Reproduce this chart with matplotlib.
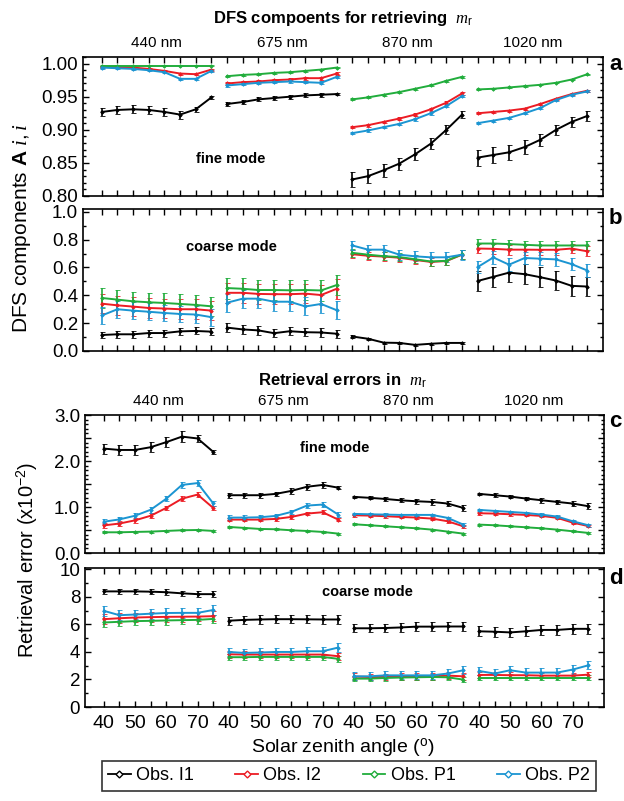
import numpy as np
import matplotlib
matplotlib.use("Agg")
from matplotlib import pyplot as plt
from matplotlib.ticker import MultipleLocator, FixedLocator, FuncFormatter
from matplotlib.transforms import blended_transform_factory
from matplotlib.lines import Line2D

plt.rcParams['font.family'] = ['Liberation Sans', 'DejaVu Sans']
plt.rcParams['mathtext.fontset'] = 'custom'
plt.rcParams['mathtext.rm'] = 'Liberation Sans'
plt.rcParams['mathtext.it'] = 'Liberation Serif:italic'
plt.rcParams['mathtext.bf'] = 'Liberation Sans:bold'

# solar zenith angles, repeated for every wavelength block
sza = [40, 45, 50, 55, 60, 65, 70, 75]
wavelengths = ['440 nm', '675 nm', '870 nm', '1020 nm']
obs_names = ['Obs. I1', 'Obs. I2', 'Obs. P1', 'Obs. P2']
obs_colors = ['black', '#ec1c24', '#21ad3c', '#1b95d2']

# (a) DFS components, fine mode
dfs_fine_I1 = [0.927, 0.930, 0.931, 0.930, 0.927, 0.923, 0.931, 0.949,
               0.939, 0.942, 0.946, 0.948, 0.950, 0.952, 0.953, 0.954,
               0.825, 0.830, 0.839, 0.849, 0.863, 0.879, 0.900, 0.923,
               0.858, 0.862, 0.866, 0.874, 0.885, 0.900, 0.912, 0.921]
dfs_fine_I2 = [0.995, 0.995, 0.994, 0.992, 0.989, 0.985, 0.984, 0.991,
               0.970, 0.972, 0.973, 0.975, 0.976, 0.978, 0.978, 0.985,
               0.904, 0.907, 0.912, 0.917, 0.923, 0.931, 0.941, 0.955,
               0.925, 0.927, 0.929, 0.932, 0.939, 0.947, 0.954, 0.959]
dfs_fine_P1 = [0.997, 0.997, 0.997, 0.997, 0.997, 0.997, 0.997, 0.997,
               0.981, 0.983, 0.984, 0.986, 0.987, 0.989, 0.991, 0.994,
               0.946, 0.949, 0.953, 0.957, 0.962, 0.967, 0.974, 0.980,
               0.961, 0.962, 0.964, 0.966, 0.968, 0.971, 0.976, 0.984]
dfs_fine_P2 = [0.994, 0.993, 0.992, 0.990, 0.987, 0.977, 0.977, 0.989,
               0.967, 0.969, 0.971, 0.972, 0.973, 0.972, 0.971, 0.980,
               0.895, 0.899, 0.904, 0.909, 0.916, 0.925, 0.936, 0.951,
               0.910, 0.914, 0.918, 0.925, 0.933, 0.945, 0.953, 0.958]
dfs_fine_err_I1 = [0.006, 0.006, 0.006, 0.006, 0.006, 0.006, 0.004, 0.002,
                   0.003, 0.003, 0.003, 0.003, 0.003, 0.003, 0.003, 0.002,
                   0.012, 0.011, 0.010, 0.009, 0.009, 0.008, 0.007, 0.005,
                   0.012, 0.012, 0.011, 0.010, 0.009, 0.008, 0.007, 0.007]
dfs_fine_err_I2 = [0.0015, 0.002, 0.002, 0.0015]
dfs_fine_err_P1 = [0.001, 0.001, 0.0015, 0.001]
dfs_fine_err_P2 = [0.0015, 0.002, 0.002, 0.0015]

# (b) DFS components, coarse mode
dfs_coarse_I1 = [0.115, 0.120, 0.120, 0.129, 0.129, 0.141, 0.144, 0.139,
                 0.168, 0.155, 0.148, 0.128, 0.142, 0.135, 0.133, 0.124,
                 0.104, 0.088, 0.060, 0.058, 0.044, 0.052, 0.058, 0.058,
                 0.503, 0.533, 0.563, 0.552, 0.530, 0.506, 0.468, 0.463]
dfs_coarse_I2 = [0.340, 0.328, 0.319, 0.309, 0.305, 0.300, 0.300, 0.290,
                 0.418, 0.418, 0.410, 0.408, 0.408, 0.412, 0.402, 0.447,
                 0.695, 0.684, 0.678, 0.670, 0.654, 0.640, 0.646, 0.692,
                 0.736, 0.734, 0.728, 0.728, 0.727, 0.727, 0.736, 0.716]
dfs_coarse_P1 = [0.381, 0.369, 0.357, 0.350, 0.345, 0.338, 0.331, 0.321,
                 0.452, 0.447, 0.438, 0.438, 0.436, 0.438, 0.435, 0.474,
                 0.705, 0.692, 0.681, 0.675, 0.659, 0.643, 0.648, 0.694,
                 0.772, 0.772, 0.768, 0.763, 0.758, 0.758, 0.758, 0.758]
dfs_coarse_P2 = [0.255, 0.300, 0.290, 0.282, 0.273, 0.266, 0.262, 0.243,
                 0.347, 0.376, 0.376, 0.354, 0.354, 0.320, 0.338, 0.293,
                 0.758, 0.728, 0.728, 0.692, 0.680, 0.673, 0.673, 0.692,
                 0.603, 0.672, 0.620, 0.668, 0.663, 0.658, 0.624, 0.578]
dfs_coarse_err_I1 = [0.025, 0.03, 0.008, 0.07]
dfs_coarse_err_I2 = [0.07, 0.07, 0.03, 0.035]
dfs_coarse_err_P1 = [0.07, 0.075, 0.03, 0.03]
dfs_coarse_err_P2 = [0.06, 0.065, 0.035, 0.045]

# (c) retrieval errors (x1e-2), fine mode
err_fine_I1 = [2.27, 2.24, 2.24, 2.30, 2.41, 2.53, 2.49, 2.20,
               1.256, 1.256, 1.256, 1.285, 1.35, 1.44, 1.48, 1.42,
               1.22, 1.20, 1.175, 1.145, 1.125, 1.11, 1.075, 0.98,
               1.285, 1.256, 1.227, 1.184, 1.147, 1.111, 1.075, 1.017]
err_fine_I2 = [0.60, 0.64, 0.71, 0.81, 0.98, 1.18, 1.27, 0.98,
               0.726, 0.726, 0.726, 0.741, 0.784, 0.857, 0.886, 0.726,
               0.82, 0.813, 0.80, 0.784, 0.77, 0.748, 0.69, 0.58,
               0.864, 0.857, 0.842, 0.828, 0.806, 0.765, 0.66, 0.585]
err_fine_P1 = [0.45, 0.45, 0.458, 0.465, 0.48, 0.494, 0.50, 0.48,
               0.566, 0.545, 0.523, 0.516, 0.494, 0.479, 0.458, 0.421,
               0.625, 0.603, 0.581, 0.559, 0.537, 0.508, 0.465, 0.421,
               0.617, 0.603, 0.581, 0.559, 0.537, 0.508, 0.472, 0.436]
err_fine_P2 = [0.68, 0.73, 0.81, 0.94, 1.18, 1.48, 1.52, 1.08,
               0.77, 0.77, 0.777, 0.806, 0.893, 1.031, 1.053, 0.835,
               0.85, 0.842, 0.835, 0.828, 0.828, 0.828, 0.763, 0.617,
               0.937, 0.915, 0.893, 0.871, 0.835, 0.792, 0.69, 0.603]
err_fine_err_I1 = [0.11, 0.11, 0.11, 0.11, 0.11, 0.12, 0.08, 0.04,
                   0.05, 0.05, 0.05, 0.05, 0.06, 0.07, 0.06, 0.03,
                   0.03, 0.03, 0.04, 0.04, 0.05, 0.06, 0.06, 0.06,
                   0.03, 0.04, 0.04, 0.04, 0.05, 0.05, 0.06, 0.06]
err_fine_err_I2 = [0.05, 0.04, 0.03, 0.03]
err_fine_err_P1 = [0.02, 0.02, 0.02, 0.02]
err_fine_err_P2 = [0.06, 0.05, 0.03, 0.03]

# (d) retrieval errors (x1e-2), coarse mode
err_coarse_I1 = [8.40, 8.40, 8.40, 8.38, 8.34, 8.26, 8.20, 8.20,
                 6.27, 6.33, 6.36, 6.38, 6.38, 6.37, 6.36, 6.36,
                 5.72, 5.72, 5.74, 5.78, 5.84, 5.84, 5.85, 5.85,
                 5.50, 5.47, 5.42, 5.50, 5.60, 5.60, 5.68, 5.68]
err_coarse_I2 = [6.38, 6.45, 6.50, 6.53, 6.55, 6.56, 6.57, 6.60,
                 3.83, 3.81, 3.81, 3.81, 3.81, 3.81, 3.81, 3.69,
                 2.21, 2.18, 2.18, 2.21, 2.21, 2.23, 2.28, 2.23,
                 2.33, 2.33, 2.31, 2.31, 2.28, 2.28, 2.28, 2.35]
err_coarse_P1 = [6.14, 6.19, 6.24, 6.26, 6.29, 6.31, 6.33, 6.40,
                 3.62, 3.62, 3.64, 3.64, 3.64, 3.64, 3.64, 3.50,
                 2.06, 2.06, 2.11, 2.14, 2.16, 2.18, 2.16, 1.99,
                 2.14, 2.14, 2.14, 2.14, 2.14, 2.14, 2.14, 2.14]
err_coarse_P2 = [6.99, 6.67, 6.72, 6.78, 6.83, 6.84, 6.84, 7.05,
                 4.00, 3.93, 3.96, 4.00, 4.00, 4.05, 4.05, 4.32,
                 2.23, 2.23, 2.30, 2.30, 2.30, 2.30, 2.43, 2.67,
                 2.62, 2.43, 2.67, 2.50, 2.50, 2.50, 2.72, 3.03]
err_coarse_err_I1 = [0.2, 0.3, 0.3, 0.35]
err_coarse_err_I2 = [0.35, 0.25, 0.25, 0.2]
err_coarse_err_P1 = [0.3, 0.2, 0.2, 0.2]
err_coarse_err_P2 = [0.35, 0.3, 0.3, 0.3]


def expand(err):
    """Per-wavelength error values -> one value per point"""
    err = list(err)
    if len(err) == len(wavelengths):
        return np.repeat(err, len(sza))
    return np.array(err)


def xpos(block):
    # each wavelength block is shifted by 40 degrees along the axis
    return np.array(sza) + 40 * block


def draw_panel(ax, series, errors):
    for vals, errs, color in zip(series, errors, obs_colors):
        vals = np.array(vals)
        errs = expand(errs)
        n = len(sza)
        for b in range(len(wavelengths)):
            sl = slice(b * n, (b + 1) * n)
            ax.errorbar(xpos(b), vals[sl], yerr=errs[sl], color=color,
                        lw=1.4, elinewidth=1.2, capsize=1.8, capthick=1.2,
                        marker='D', ms=1.8, mfc=color, mew=0.6, zorder=3)


def style_axes(ax, ylim, major, minor, fmt, label_every=None):
    ax.set_xlim(34, 200)
    ax.set_ylim(*ylim)
    ticks = np.arange(40, 200, 5)
    ax.xaxis.set_major_locator(FixedLocator(ticks))
    ax.yaxis.set_major_locator(MultipleLocator(major))
    ax.yaxis.set_minor_locator(MultipleLocator(minor))
    if label_every:
        ax.yaxis.set_major_formatter(FuncFormatter(
            lambda v, p: fmt % v if abs(v / label_every - round(v / label_every)) < 1e-6 else ''))
    else:
        ax.yaxis.set_major_formatter(FuncFormatter(lambda v, p: fmt % v))
    ax.tick_params(which='both', direction='in', top=True, right=True,
                   labelsize=13.5, width=1)
    ax.tick_params(which='major', length=4)
    ax.tick_params(which='minor', length=2)
    for s in ax.spines.values():
        s.set_linewidth(1.2)


def xlabels(v, p):
    a = 40 + (int(round(v)) - 40) % 40
    return str(a) if a in (40, 50, 60, 70) else ''


def wavelength_labels(ax, y):
    tr = blended_transform_factory(ax.transData, ax.transAxes)
    for b, w in enumerate(wavelengths):
        ax.text(57.5 + 40 * b, y, w, transform=tr, ha='center', va='center',
                fontsize=11)


def main():
    W, H = 624, 801
    fig = plt.figure(figsize=(W / 100, H / 100), dpi=100)

    def box(left, right, top, bottom):
        return [left / W, 1 - bottom / H, (right - left) / W, (bottom - top) / H]

    ax_a = fig.add_axes(box(83, 603, 57, 196))
    ax_b = fig.add_axes(box(83, 603, 209, 351))
    ax_c = fig.add_axes(box(85, 604, 415, 553))
    ax_d = fig.add_axes(box(85, 604, 568, 707))

    draw_panel(ax_a, [dfs_fine_I1, dfs_fine_I2, dfs_fine_P1, dfs_fine_P2],
               [dfs_fine_err_I1, dfs_fine_err_I2, dfs_fine_err_P1, dfs_fine_err_P2])
    draw_panel(ax_b, [dfs_coarse_I1, dfs_coarse_I2, dfs_coarse_P1, dfs_coarse_P2],
               [dfs_coarse_err_I1, dfs_coarse_err_I2, dfs_coarse_err_P1, dfs_coarse_err_P2])
    draw_panel(ax_c, [err_fine_I1, err_fine_I2, err_fine_P1, err_fine_P2],
               [err_fine_err_I1, err_fine_err_I2, err_fine_err_P1, err_fine_err_P2])
    draw_panel(ax_d, [err_coarse_I1, err_coarse_I2, err_coarse_P1, err_coarse_P2],
               [err_coarse_err_I1, err_coarse_err_I2, err_coarse_err_P1, err_coarse_err_P2])

    style_axes(ax_a, (0.80, 1.01), 0.05, 0.01, '%.2f')
    style_axes(ax_b, (0.0, 1.02), 0.2, 0.1, '%.1f')
    style_axes(ax_c, (0.0, 3.0), 0.5, 0.1, '%.1f', label_every=1.0)
    style_axes(ax_d, (0.0, 10.1), 2, 1, '%d')

    for ax in (ax_a, ax_b, ax_c):
        ax.set_xticklabels([])
    ax_d.xaxis.set_major_formatter(FuncFormatter(xlabels))
    ax_d.tick_params(axis='x', labelsize=14, pad=6)

    wavelength_labels(ax_a, 1.10)
    wavelength_labels(ax_c, 1.10)

    # titles, axis labels and panel letters
    fig.text(343 / W, 1 - 18 / H, r'DFS compoents for retrieving  $m_\mathrm{r}$',
             ha='center', va='center', fontsize=12, fontweight='bold')
    fig.text(343 / W, 1 - 381 / H, r'Retrieval errors in  $m_\mathrm{r}$',
             ha='center', va='center', fontsize=12, fontweight='bold')
    fig.text(22 / W, 1 - 228 / H, r'DFS components $\mathbf{A}$ $i,i$',
             rotation=90, ha='center', va='center', fontsize=15)
    fig.text(27 / W, 1 - 560 / H, r'Retrieval error (x10$^{-2}$)',
             rotation=90, ha='center', va='center', fontsize=14.5)
    fig.text(343 / W, 1 - 748 / H, r'Solar zenith angle ($^{\mathrm{o}}$)',
             ha='center', va='center', fontsize=14)

    for letter, y in zip('abcd', (64, 219, 422, 579)):
        fig.text(609 / W, 1 - y / H, letter, ha='left', va='center',
                 fontsize=16, fontweight='bold')

    fig.text(231 / W, 1 - 159 / H, 'fine mode', ha='center', va='center',
             fontsize=10.5, fontweight='bold')
    fig.text(231 / W, 1 - 247 / H, 'coarse mode', ha='center', va='center',
             fontsize=10.5, fontweight='bold')
    fig.text(335 / W, 1 - 448 / H, 'fine mode', ha='center', va='center',
             fontsize=10.5, fontweight='bold')
    fig.text(367 / W, 1 - 592 / H, 'coarse mode', ha='center', va='center',
             fontsize=10.5, fontweight='bold')

    handles = [Line2D([], [], color=c, lw=1.3, marker='D', ms=3.5,
                      mfc='white', mew=1) for c in obs_colors]
    leg = fig.legend(handles, obs_names, loc='center', ncol=4,
                     bbox_to_anchor=(349 / W, 1 - 776 / H), fontsize=13,
                     frameon=True, fancybox=False, handlelength=1.25,
                     handletextpad=0.3, columnspacing=2.3, borderpad=0.35,
                     borderaxespad=0)
    leg.get_frame().set_edgecolor('black')
    leg.get_frame().set_linewidth(1.2)

    fig.savefig('out.png', dpi=100)


if __name__ == '__main__':
    main()
